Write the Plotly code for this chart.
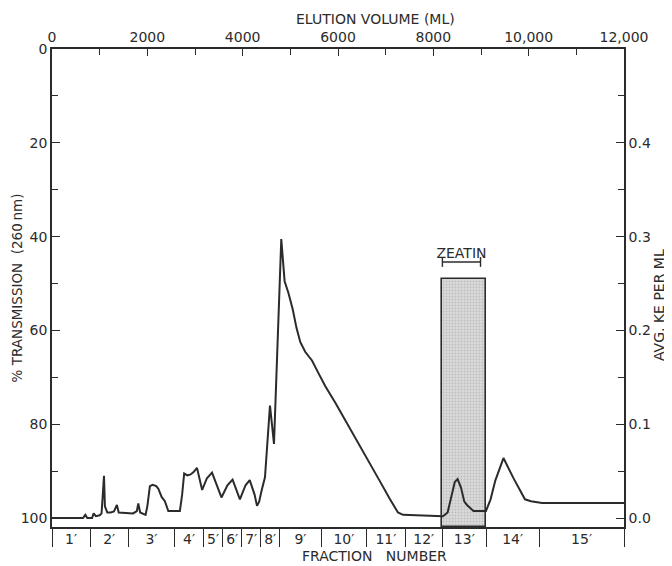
import plotly.graph_objects as go

# ---- data ----
volume_ml = [0, 650, 699, 740, 840, 874, 920, 1000, 1040, 1091, 1110, 1160, 1230, 1300,
             1361, 1400, 1700, 1780, 1810, 1850, 1963, 2000, 2054, 2110, 2188, 2233, 2300,
             2368, 2440, 2683, 2730, 2773, 2840, 2907, 2970, 3042, 3150, 3250, 3357, 3555,
             3680, 3788, 3942, 4060, 4148, 4250, 4301, 4346, 4400, 4468, 4573, 4657, 4810,
             4880, 4960, 5050, 5130, 5210, 5315, 5454, 5595, 5734, 5944, 6084, 6314, 6587,
             6860, 7091, 7258, 7363, 7800, 8202, 8300, 8380, 8450, 8509, 8580, 8650, 8706,
             8842, 9104, 9201, 9300, 9471, 9580, 9692, 9922, 10048, 10280, 12000]
transmission_pct = [100, 100, 99.3, 100, 100, 99.0, 99.6, 99.4, 99.0, 91.0, 97.5, 98.8, 98.8, 98.6,
                    97.2, 98.8, 99.0, 98.5, 96.9, 98.8, 99.3, 97.5, 93.2, 92.9, 93.2, 93.8, 95.5,
                    96.4, 98.5, 98.5, 95.0, 90.5, 90.9, 90.7, 90.2, 89.3, 94.0, 91.5, 90.3, 95.6,
                    93.0, 91.8, 96.0, 93.0, 91.9, 95.0, 97.4, 96.5, 94.0, 91.3, 76.0, 84.2, 40.5,
                    49.5, 52.0, 55.5, 59.5, 62.5, 64.6, 66.4, 69.2, 71.9, 75.4, 77.9, 81.9, 86.6,
                    91.8, 96.0, 98.8, 99.3, 99.5, 99.6, 98.8, 95.5, 92.3, 91.7, 93.5, 96.5, 97.2,
                    98.5, 98.5, 96.0, 92.0, 87.2, 89.5, 91.7, 96.0, 96.4, 96.8, 96.8]

fraction_bounds_ml = [0, 800, 1600, 2575, 3180, 3580, 3980, 4380, 4775, 5650, 6600,
                      7410, 8190, 9110, 10220, 12000]
fraction_labels = ["1′", "2′", "3′", "4′", "5′", "6′", "7′", "8′", "9′", "10′",
                   "11′", "12′", "13′", "14′", "15′"]

zeatin_fraction = 13
zeatin_activity_ke = 0.255          # avg. KE per ml in fraction 13'
zeatin_elution_ml = [8190, 8990]    # elution range of the zeatin marker
zeatin_marker_ke = 0.273

volume_tickvals = [0, 2000, 4000, 6000, 8000, 10000, 12000]
volume_ticktext = ["0", "2000", "4000", "6000", "8000", "10,000", "12,000"]
pct_tickvals = [0, 20, 40, 60, 80, 100]
ke_tickvals = [0.0, 0.1, 0.2, 0.3, 0.4]
ke_ticktext = ["0.0", "0.1", "0.2", "0.3", "0.4"]

# ---- styling ----
INK = "#2b2b2b"
FONT = dict(family="DejaVu Sans", size=14, color=INK)
PCT_RANGE = [101.9, 0]


def ke_to_pct(ke):
    return 100 - 200 * ke


KE_RANGE = [(100 - PCT_RANGE[0]) / 200, (100 - PCT_RANGE[1]) / 200]

fig = go.Figure()

# zeatin activity bar (fraction 13'), drawn on the shared scale so the trace sits above it
f0 = fraction_bounds_ml[zeatin_fraction - 1]
f1 = fraction_bounds_ml[zeatin_fraction]
bar_top = ke_to_pct(zeatin_activity_ke)
fig.add_trace(go.Bar(
    x=[(f0 + f1) / 2], y=[bar_top - PCT_RANGE[0]], base=[PCT_RANGE[0]],
    width=[f1 - f0], xaxis="x", yaxis="y",
    marker=dict(color="#d0d0d0", line=dict(color=INK, width=1.6),
                pattern=dict(shape=".", fgcolor="#a0a0a0", bgcolor="#dadada", size=3, solidity=0.3)),
    hoverinfo="skip"))

# absorbance trace
fig.add_trace(go.Scatter(x=volume_ml, y=transmission_pct, mode="lines",
                         line=dict(color=INK, width=2), xaxis="x", yaxis="y"))

# zeatin marker bracket
marker_pct = ke_to_pct(zeatin_marker_ke)
fig.add_trace(go.Scatter(x=zeatin_elution_ml, y=[marker_pct] * 2, mode="lines+markers",
                         line=dict(color=INK, width=1.4),
                         marker=dict(symbol="line-ns-open", size=7, line=dict(color=INK, width=1.4)),
                         xaxis="x", yaxis="y"))
fig.add_trace(go.Scatter(x=[sum(zeatin_elution_ml) / 2], y=[marker_pct], mode="text",
                         text=["ZEATIN"], textposition="top center",
                         textfont=dict(family="DejaVu Sans", size=14, color=INK),
                         xaxis="x", yaxis="y"))

centers = [(a + b) / 2 for a, b in zip(fraction_bounds_ml[:-1], fraction_bounds_ml[1:])]

# the page body adds an 8 px margin, so the figure is sized to end at the window edge
fig.update_layout(
    width=664, height=558,
    margin=dict(l=44, r=48, t=41, b=39),
    paper_bgcolor="white", plot_bgcolor="white",
    showlegend=False, font=FONT, bargap=0,
    xaxis=dict(range=[0, 12000], tickvals=fraction_bounds_ml, showticklabels=False,
               ticks="outside", ticklen=18, tickwidth=1.4, tickcolor=INK,
               showline=True, linecolor=INK, linewidth=1.6, showgrid=False, zeroline=False),
    xaxis2=dict(range=[0, 12000], overlaying="x", side="top",
                tickvals=volume_tickvals, ticktext=volume_ticktext,
                ticks="inside", ticklen=7, tickwidth=1.4, tickcolor=INK,
                minor=dict(dtick=1000, ticks="inside", ticklen=6, tickwidth=1.2, tickcolor=INK),
                showline=True, linecolor=INK, linewidth=1.6, showgrid=False, zeroline=False,
                tickfont=FONT),
    xaxis3=dict(range=[0, 12000], overlaying="x", side="bottom",
                tickvals=centers, ticktext=fraction_labels, ticks="",
                showline=False, showgrid=False, zeroline=False, ticklabelstandoff=2,
                tickfont=dict(family="DejaVu Sans", size=14, color=INK)),
    yaxis=dict(range=PCT_RANGE, tickvals=pct_tickvals,
               ticks="inside", ticklen=8, tickwidth=1.4, tickcolor=INK,
               minor=dict(dtick=10, ticks="inside", ticklen=6, tickwidth=1.2, tickcolor=INK),
               showline=True, linecolor=INK, linewidth=1.6, showgrid=False, zeroline=False,
               tickfont=FONT),
    yaxis2=dict(range=KE_RANGE, overlaying="y", side="right",
                tickvals=ke_tickvals, ticktext=ke_ticktext,
                ticks="inside", ticklen=8, tickwidth=1.4, tickcolor=INK,
                minor=dict(dtick=0.05, ticks="inside", ticklen=6, tickwidth=1.2, tickcolor=INK),
                showline=True, linecolor=INK, linewidth=1.6, showgrid=False, zeroline=False,
                tickfont=FONT),
)

# invisible traces to activate the extra axes
for xa, ya in (("x3", "y"), ("x2", "y"), ("x", "y2")):
    fig.add_trace(go.Scatter(x=[0], y=[100 if ya == "y" else 0], xaxis=xa, yaxis=ya,
                             mode="markers", marker=dict(opacity=0), hoverinfo="skip"))

fig.add_annotation(text="ELUTION VOLUME (ML)", xref="paper", yref="paper", x=0.566, y=1.062,
                   showarrow=False, font=FONT, xanchor="center", yanchor="middle")
fig.add_annotation(text="FRACTION\u00a0\u00a0 NUMBER", xref="paper", yref="paper", x=0.563, y=-0.0607,
                   showarrow=False, font=FONT, xanchor="center", yanchor="middle", borderpad=0)
fig.add_annotation(text="% TRANSMISSION\u00a0 (260\u2009nm)", xref="paper", yref="paper",
                   x=-0.0605, y=0.50, textangle=-90, showarrow=False,
                   font=dict(family="DejaVu Sans", size=13.5, color=INK),
                   xanchor="center", yanchor="middle", borderpad=0)
fig.add_annotation(text="AVG. KE PER ML", xref="paper", yref="paper",
                   x=1.061, y=0.464, textangle=-90, showarrow=False, font=FONT,
                   xanchor="center", yanchor="middle", borderpad=0)

fig.write_html("out.html")
